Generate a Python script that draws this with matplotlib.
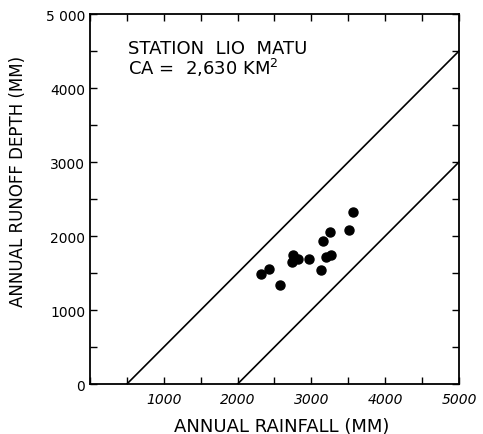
import numpy as np
import matplotlib
matplotlib.use("Agg")
from matplotlib import pyplot as plt
from matplotlib.ticker import MultipleLocator

# observed annual rainfall / runoff (mm)
rainfall = [3564, 3509, 3256, 3157, 2747, 2823, 2733, 2972, 3198, 3270, 3126, 2425, 2313, 2570]
runoff = [2324, 2081, 2054, 1936, 1747, 1689, 1645, 1689, 1720, 1743, 1536, 1558, 1490, 1338]

# envelope lines: runoff = rainfall - loss
upper_x = [500, 5000]
upper_y = [0, 4500]
lower_x = [2000, 5000]
lower_y = [0, 3000]

xticks = [1000, 2000, 3000, 4000, 5000]
xticklabels = ["1000", "2000", "3000", "4000", "5000"]
yticks = [0, 1000, 2000, 3000, 4000, 5000]
yticklabels = ["0", "1000", "2000", "3000", "4000", "5 000"]

fig = plt.figure(figsize=(4.83, 4.35), dpi=100)
ax = fig.add_axes([0.1863, 0.1149, 0.764, 0.8506])

ax.plot(upper_x, upper_y, color="black", lw=1.2)
ax.plot(lower_x, lower_y, color="black", lw=1.2)
ax.plot(rainfall, runoff, "o", color="black", markersize=6.5)

ax.set_xlim(0, 5000)
ax.set_ylim(0, 5000)
ax.set_xticks(xticks)
ax.set_xticklabels(xticklabels, fontstyle="italic", fontsize=10)
ax.set_yticks(yticks)
ax.set_yticklabels(yticklabels, fontsize=10)
ax.xaxis.set_minor_locator(MultipleLocator(500))
ax.yaxis.set_minor_locator(MultipleLocator(500))
ax.tick_params(which="both", direction="in", top=True, right=True, length=5, width=1)
ax.tick_params(axis="x", pad=6)
for s in ax.spines.values():
	s.set_linewidth(1.3)

ax.text(520, 4660, "STATION  LIO  MATU\nCA =  2,630 KM$^2$", fontsize=13, va="top", ha="left", linespacing=0.95)

ax.set_xlabel("ANNUAL RAINFALL (MM)", fontsize=13)
ax.set_ylabel("ANNUAL RUNOFF DEPTH (MM)", fontsize=12)
ax.yaxis.set_label_coords(-0.17, 0.55)
ax.xaxis.set_label_coords(0.52, -0.09)

plt.savefig("out.png")
